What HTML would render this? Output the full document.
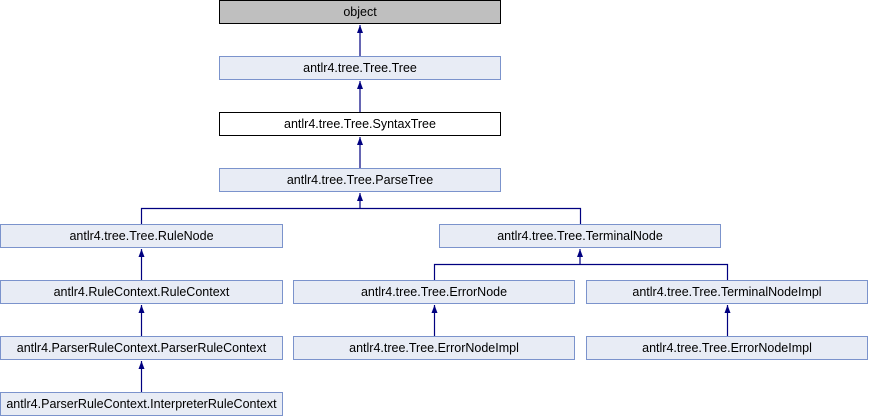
<!DOCTYPE html>
<html><head><meta charset="utf-8"><style>body{margin:0;background:#fff}svg{display:block}text{font-family:"Liberation Sans",sans-serif;font-size:12.5px;fill:#000}</style></head><body>
<svg width="869" height="416" xmlns="http://www.w3.org/2000/svg">
<defs><marker id="a" markerWidth="8" markerHeight="8" refX="4" refY="0" orient="0" markerUnits="userSpaceOnUse"><path d="M1,8 L4,0 L7,8 Z" fill="#000080"/></marker></defs>
<g stroke="#000080" stroke-width="1.2" fill="none">
<line x1="360" y1="56" x2="360" y2="25" marker-end="url(#a)"/>
<line x1="360" y1="112" x2="360" y2="81" marker-end="url(#a)"/>
<line x1="360" y1="168" x2="360" y2="137" marker-end="url(#a)"/>
<path d="M141.5,224 V208.5 H580.5 V224"/>
<line x1="360" y1="208" x2="360" y2="193" marker-end="url(#a)"/>
<path d="M434.5,280 V264.5 H727.5 V280"/>
<line x1="580" y1="264" x2="580" y2="249" marker-end="url(#a)"/>
<line x1="141.5" y1="280" x2="141.5" y2="249" marker-end="url(#a)"/>
<line x1="141.5" y1="336" x2="141.5" y2="305" marker-end="url(#a)"/>
<line x1="141.5" y1="392" x2="141.5" y2="361" marker-end="url(#a)"/>
<line x1="434.5" y1="336" x2="434.5" y2="305" marker-end="url(#a)"/>
<line x1="727.5" y1="336" x2="727.5" y2="305" marker-end="url(#a)"/>
</g>
<g stroke-width="1">
<rect x="219.5" y="0.5" width="281" height="23" fill="#bfbfbf" stroke="#000"/>
<rect x="219.5" y="56.5" width="281" height="23" fill="#e8ecf5" stroke="#7b93cc"/>
<rect x="219.5" y="112.5" width="281" height="23" fill="#fff" stroke="#000"/>
<rect x="219.5" y="168.5" width="281" height="23" fill="#e8ecf5" stroke="#7b93cc"/>
<rect x="0.5" y="224.5" width="282" height="23" fill="#e8ecf5" stroke="#7b93cc"/>
<rect x="439.5" y="224.5" width="281" height="23" fill="#e8ecf5" stroke="#7b93cc"/>
<rect x="0.5" y="280.5" width="282" height="23" fill="#e8ecf5" stroke="#7b93cc"/>
<rect x="293.5" y="280.5" width="281" height="23" fill="#e8ecf5" stroke="#7b93cc"/>
<rect x="586.5" y="280.5" width="281" height="23" fill="#e8ecf5" stroke="#7b93cc"/>
<rect x="0.5" y="336.5" width="282" height="23" fill="#e8ecf5" stroke="#7b93cc"/>
<rect x="293.5" y="336.5" width="281" height="23" fill="#e8ecf5" stroke="#7b93cc"/>
<rect x="586.5" y="336.5" width="281" height="23" fill="#e8ecf5" stroke="#7b93cc"/>
<rect x="0.5" y="392.5" width="282" height="23" fill="#e8ecf5" stroke="#7b93cc"/>
</g>
<g text-anchor="middle">
<text x="360" y="16">object</text>
<text x="360" y="72">antlr4.tree.Tree.Tree</text>
<text x="360" y="128">antlr4.tree.Tree.SyntaxTree</text>
<text x="360" y="184">antlr4.tree.Tree.ParseTree</text>
<text x="141.5" y="240">antlr4.tree.Tree.RuleNode</text>
<text x="580" y="240">antlr4.tree.Tree.TerminalNode</text>
<text x="141.5" y="296">antlr4.RuleContext.RuleContext</text>
<text x="434" y="296">antlr4.tree.Tree.ErrorNode</text>
<text x="727" y="296">antlr4.tree.Tree.TerminalNodeImpl</text>
<text x="141.5" y="352">antlr4.ParserRuleContext.ParserRuleContext</text>
<text x="434" y="352">antlr4.tree.Tree.ErrorNodeImpl</text>
<text x="727" y="352">antlr4.tree.Tree.ErrorNodeImpl</text>
<text x="141.5" y="408">antlr4.ParserRuleContext.InterpreterRuleContext</text>
</g>
</svg>
</body></html>
